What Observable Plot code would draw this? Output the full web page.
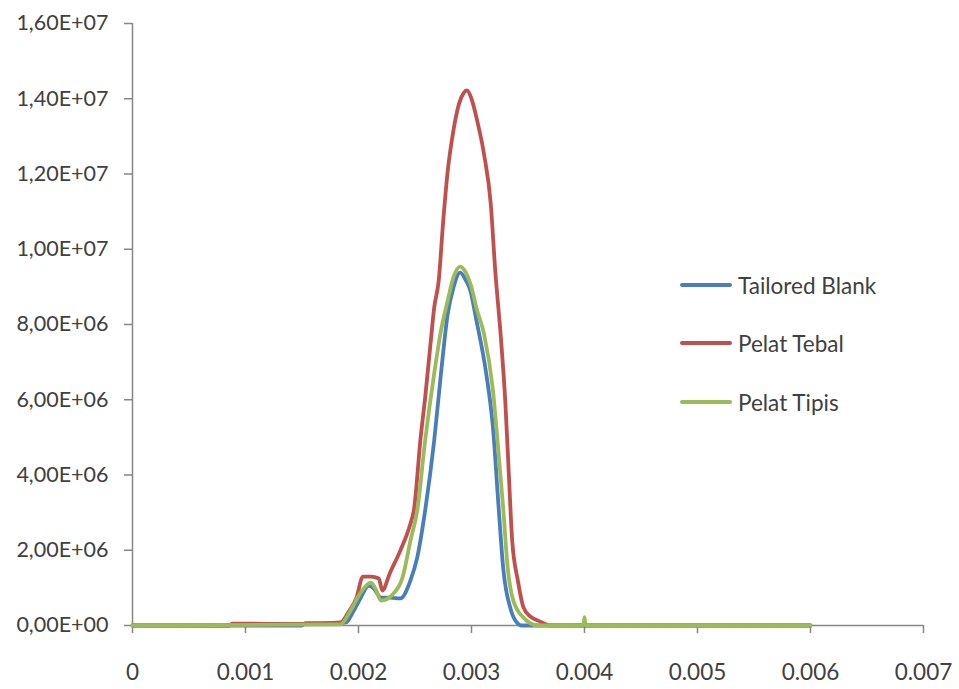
<!DOCTYPE html>
<html>
<head>
<meta charset="utf-8">
<script src="https://cdn.jsdelivr.net/npm/d3@7"></script>
<script src="https://cdn.jsdelivr.net/npm/@observablehq/plot@0.6"></script>
<style>
  html, body { margin: 0; padding: 0; background: #fff; }
  #wrap { position: relative; width: 959px; height: 689px; font-family: Lato, "Open Sans", sans-serif; }
  .legend { position: absolute; left: 680px; top: 0; }
  .item { position: absolute; left: 0; display: flex; align-items: center; white-space: nowrap; font-size: 22.5px; color: #404040; }
  .swatch { width: 52px; height: 4px; margin-right: 6px; border-radius: 2px; }
</style>
</head>
<body>
<div id="wrap"></div>
<script>
// ---- data ----
const seriesNames = ["Tailored Blank", "Pelat Tebal", "Pelat Tipis"];
const seriesColors = ["#4A7EBB", "#C0504D", "#9BBB59"];

const xTicks = [0, 0.001, 0.002, 0.003, 0.004, 0.005, 0.006, 0.007];
const xTickLabels = ["0", "0.001", "0.002", "0.003", "0.004", "0.005", "0.006", "0.007"];
const yTicks = [0, 2e6, 4e6, 6e6, 8e6, 1e7, 1.2e7, 1.4e7, 1.6e7];
const yTickLabels = ["0,00E+00", "2,00E+06", "4,00E+06", "6,00E+06", "8,00E+06", "1,00E+07", "1,20E+07", "1,40E+07", "1,60E+07"];

// [x, y] pairs
const tailoredBlank = [
  [0, 0], [0.0015, 0], [0.00153, 6e4], [0.00182, 6e4], [0.00189, 8e4], [0.00195, 3.5e5],
  [0.00202, 7.4e5], [0.00209, 1.06e6], [0.00213, 1.0e6], [0.00220, 7.4e5], [0.00228, 7.4e5],
  [0.00237, 7.2e5], [0.00246, 1.2e6], [0.00252, 1.81e6], [0.00259, 3.06e6], [0.00267, 4.92e6],
  [0.00273, 6.7e6], [0.00279, 8.29e6], [0.00284, 8.98e6], [0.00290, 9.38e6], [0.00295, 9.17e6],
  [0.00299, 8.9e6], [0.00304, 8.16e6], [0.00313, 6.7e6], [0.00319, 5.26e6], [0.00324, 3.14e6],
  [0.00328, 1.54e6], [0.00335, 4.0e5], [0.00341, 5e4], [0.00344, 0], [0.006, 0]
];
const pelatTebal = [
  [0, 0], [0.00086, 0], [0.00088, 5e4], [0.0015, 4e4], [0.00184, 8e4], [0.00191, 3.5e5],
  [0.00198, 7.2e5], [0.00204, 1.3e6], [0.00211, 1.3e6], [0.00218, 1.25e6], [0.00221, 9.3e5],
  [0.00228, 1.41e6], [0.00237, 1.99e6], [0.00246, 2.71e6], [0.00249, 3.06e6], [0.00255, 5.0e6],
  [0.00259, 6.06e6], [0.00264, 7.57e6], [0.00267, 8.45e6], [0.00271, 9.17e6], [0.00275, 1.076e7],
  [0.00279, 1.209e7], [0.00283, 1.297e7], [0.00289, 1.387e7], [0.00293, 1.415e7], [0.00296, 1.422e7],
  [0.00300, 1.40e7], [0.00305, 1.342e7], [0.00311, 1.254e7], [0.00317, 1.122e7], [0.00321, 9.44e6],
  [0.00326, 7.65e6], [0.00330, 5.9e6], [0.00333, 4.04e6], [0.00336, 2.26e6], [0.00341, 1.2e6],
  [0.00346, 4.8e5], [0.00352, 2.4e5], [0.00359, 1.3e5], [0.00370, 0], [0.006, 0]
];
const pelatTipis = [
  [0, 0], [0.00184, 3e4], [0.00193, 4.0e5], [0.00202, 8.8e5], [0.00211, 1.14e6], [0.00215, 9.8e5],
  [0.00220, 6.6e5], [0.00231, 8.5e5], [0.00239, 1.28e6], [0.00246, 2.26e6], [0.00252, 3.06e6],
  [0.00259, 4.92e6], [0.00267, 6.7e6], [0.00273, 7.84e6], [0.00279, 8.64e6], [0.00284, 9.25e6],
  [0.00290, 9.54e6], [0.00295, 9.38e6], [0.00299, 9.09e6], [0.00305, 8.37e6], [0.00311, 7.76e6],
  [0.00319, 6.25e6], [0.00323, 4.92e6], [0.00328, 3.14e6], [0.00332, 1.54e6], [0.00337, 6.6e5],
  [0.00346, 2.1e5], [0.00359, 0], [0.00399, 0], [0.00400, 2.2e5], [0.00401, 0], [0.006, 0]
];

const seriesData = [tailoredBlank, pelatTebal, pelatTipis];
const toRows = (arr) => arr.map(([x, y]) => ({x, y}));

const axisColor = "#868686";
const textColor = "#404040";

const chart = Plot.plot({
  width: 959,
  height: 689,
  marginLeft: 132,
  marginRight: 36,
  marginTop: 23,
  marginBottom: 64,
  x: {domain: [0, 0.007]},
  y: {domain: [0, 1.6e7]},
  style: {fontFamily: "Lato, 'Open Sans', sans-serif", fontSize: "21px", background: "white", overflow: "visible"},
  marks: [
    Plot.ruleX([0], {stroke: axisColor, strokeWidth: 1.5}),
    Plot.ruleY([0], {stroke: axisColor, strokeWidth: 1.5}),
    Plot.axisY({ticks: yTicks, tickFormat: d => yTickLabels[yTicks.indexOf(d)], tickSize: 8, tickPadding: 16,
      stroke: axisColor, strokeWidth: 1.5, fill: textColor, label: null, fontSize: 21.5}),
    Plot.axisX({ticks: xTicks, tickFormat: d => xTickLabels[xTicks.indexOf(d)], tickSize: 8, tickPadding: 31,
      stroke: axisColor, strokeWidth: 1.5, fill: textColor, label: null, fontSize: 22.5}),
    ...seriesData.map((s, i) => Plot.line(toRows(s), {x: "x", y: "y", stroke: seriesColors[i],
      strokeWidth: 3.8, strokeLinejoin: "round", strokeLinecap: "round", curve: "monotone-x"}))
  ]
});

const wrap = document.getElementById("wrap");
wrap.appendChild(chart);

// legend
const legend = document.createElement("div");
legend.className = "legend";
const legendTops = [285, 343, 402];
seriesNames.forEach((name, i) => {
  const item = document.createElement("div");
  item.className = "item";
  item.style.top = (legendTops[i] - 14) + "px";
  item.style.height = "28px";
  const sw = document.createElement("div");
  sw.className = "swatch";
  sw.style.background = seriesColors[i];
  const label = document.createElement("span");
  label.textContent = name;
  item.appendChild(sw);
  item.appendChild(label);
  legend.appendChild(item);
});
wrap.appendChild(legend);
</script>
</body>
</html>
